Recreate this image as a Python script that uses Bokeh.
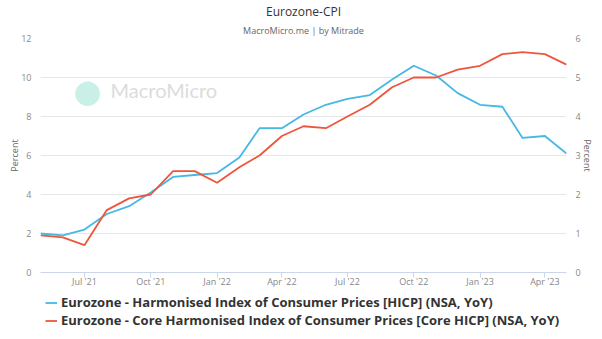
import pandas as pd
from bokeh.plotting import figure
from bokeh.layouts import column
from bokeh.models import (Range1d, LinearAxis, FixedTicker, Label, Legend, LegendItem, Title)
from bokeh.embed import file_html
from bokeh.resources import INLINE

# ---- data ----
months = pd.date_range("2021-05-01", periods=25, freq="MS")
hicp = [2.0, 1.9, 2.2, 3.0, 3.4, 4.1, 4.9, 5.0, 5.1, 5.9, 7.4, 7.4, 8.1, 8.6,
        8.9, 9.1, 9.9, 10.6, 10.1, 9.2, 8.6, 8.5, 6.9, 7.0, 6.1]
core_hicp = [0.95, 0.9, 0.7, 1.6, 1.9, 2.0, 2.6, 2.6, 2.3, 2.7, 3.0, 3.5, 3.75, 3.7,
             4.0, 4.3, 4.75, 5.0, 5.0, 5.2, 5.3, 5.6, 5.65, 5.6, 5.33]
tick_dates = ["2021-07-01", "2021-10-01", "2022-01-01", "2022-04-01",
              "2022-07-01", "2022-10-01", "2023-01-01", "2023-04-01"]
tick_labels = ["Jul '21", "Oct '21", "Jan '22", "Apr '22",
               "Jul '22", "Oct '22", "Jan '23", "Apr '23"]
left_ticks = [0, 2, 4, 6, 8, 10, 12]
right_ticks = [0, 1, 2, 3, 4, 5, 6]
series_names = ["Eurozone - Harmonised Index of Consumer Prices [HICP] (NSA, YoY)",
                "Eurozone - Core Harmonised Index of Consumer Prices [Core HICP] (NSA, YoY)"]
colors = ["#46b8e3", "#ee553d"]

FONT = "Open Sans"

p = figure(frame_width=526, frame_height=234, x_axis_type="datetime",
           output_backend="svg", toolbar_location=None,
           min_border_left=40, min_border_right=36,
           min_border_top=38, min_border_bottom=22,
           x_range=Range1d(months[0], months[-1]),
           y_range=Range1d(0, 12))
p.outline_line_color = None
p.extra_y_ranges = {"right": Range1d(0, 6)}

# titles
p.title.text = "Eurozone-CPI"
p.title.align = "center"
p.title.text_font = FONT
p.title.text_font_size = "12px"
p.title.text_font_style = "normal"
p.title.text_color = "#333333"
p.title.standoff = 0
p.add_layout(Title(text="MacroMicro.me | by Mitrade", align="center",
                   text_font=FONT, text_font_size="9px", text_font_style="normal",
                   text_color="#666666", standoff=4), "above")

r1 = p.line(months, hicp, line_color=colors[0], line_width=1.8)
r2 = p.line(months, core_hicp, line_color=colors[1], line_width=1.8,
            y_range_name="right")

# x axis
tick_ms = [pd.Timestamp(d).value // 10**6 for d in tick_dates]
xa = p.xaxis[0]
xa.ticker = FixedTicker(ticks=tick_ms)
xa.major_label_overrides = {float(t): l for t, l in zip(tick_ms, tick_labels)}
xa.axis_line_color = "#ccd6eb"
xa.major_tick_line_color = "#ccd6eb"
xa.major_tick_out = 5
xa.major_tick_in = 0
xa.minor_tick_out = 0
xa.minor_tick_line_color = None
xa.major_label_text_font = FONT
xa.major_label_text_font_size = "9px"
xa.major_label_text_color = "#888888"
xa.major_label_standoff = -3
p.xgrid.visible = False

def style_y(ax, standoff, label_standoff):
    ax.axis_line_color = None
    ax.major_tick_line_color = None
    ax.minor_tick_line_color = None
    ax.major_tick_out = 0
    ax.major_tick_in = 0
    ax.minor_tick_out = 0
    ax.minor_tick_in = 0
    ax.major_label_text_font = FONT
    ax.major_label_text_font_size = "9px"
    ax.major_label_text_color = "#888888"
    ax.major_label_standoff = standoff
    ax.axis_label = "Percent"
    ax.axis_label_text_font = FONT
    ax.axis_label_text_font_style = "normal"
    ax.axis_label_text_font_size = "9px"
    ax.axis_label_text_color = "#666666"
    ax.axis_label_standoff = label_standoff

ya = p.yaxis[0]
ya.ticker = FixedTicker(ticks=left_ticks)
style_y(ya, 9, -3)
p.ygrid.grid_line_color = "#e6e6e6"
p.ygrid.ticker = FixedTicker(ticks=left_ticks)

ra = LinearAxis(y_range_name="right", ticker=FixedTicker(ticks=right_ticks))
style_y(ra, 9, -3)
p.add_layout(ra, "right")

# watermark
p.add_layout(Label(x=47, y=182, x_units="screen", y_units="screen",
                   text="\u25cf", text_align="center", text_baseline="middle",
                   text_font="DejaVu Sans", text_font_size="32px",
                   text_color="#c9efe6"))
p.add_layout(Label(x=70, y=183, x_units="screen", y_units="screen",
                   text="MacroMicro", text_align="left", text_baseline="middle",
                   text_font="Lato", text_font_size="20px",
                   text_color="#dcdcdc"))

# legend strip (separate figure below the chart)
lg = figure(width=602, height=45, output_backend="svg", toolbar_location=None,
            min_border=0, x_range=Range1d(0, 1), y_range=Range1d(0, 1))
lg.outline_line_color = None
lg.axis.visible = False
lg.grid.visible = False
l1 = lg.line(months, hicp, line_color=colors[0], line_width=1.8)
l2 = lg.line(months, core_hicp, line_color=colors[1], line_width=1.8)
legend = Legend(items=[LegendItem(label=series_names[0], renderers=[l1]),
                       LegendItem(label=series_names[1], renderers=[l2])],
                location=(5, 10), orientation="vertical",
                margin=0, padding=0, spacing=0,
                glyph_width=12, glyph_height=17, label_height=17,
                label_standoff=4,
                label_text_font=FONT, label_text_font_size="13px",
                label_text_line_height=1.0,
                label_text_font_style="bold", label_text_color="#333333",
                background_fill_alpha=0, border_line_color=None)
lg.add_layout(legend, "center")

layout = column(p, lg, spacing=0)
open("out.html", "w").write(file_html(layout, INLINE))
